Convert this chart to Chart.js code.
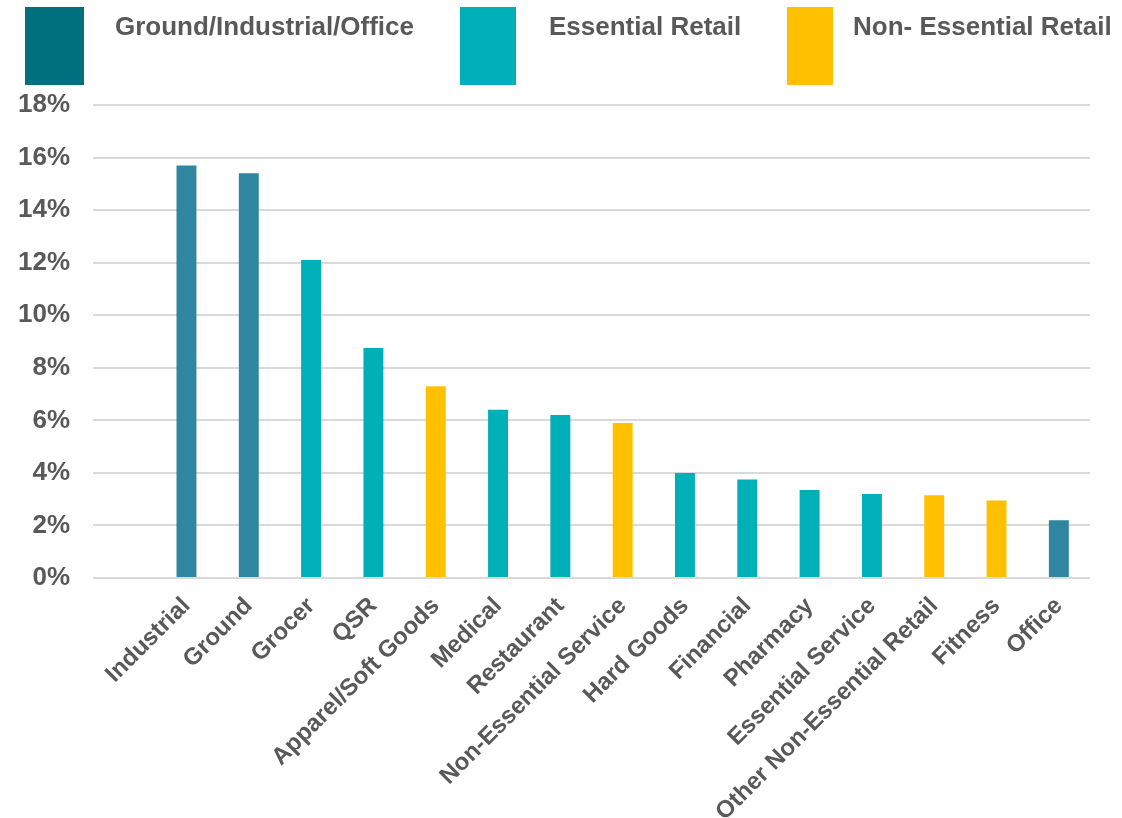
<!DOCTYPE html>
<html>
<head>
<meta charset="utf-8">
<script src="https://cdn.jsdelivr.net/npm/chart.js@4"></script>
<style>
  html, body { margin: 0; padding: 0; background: #ffffff; }
  #wrap { position: relative; width: 1122px; height: 818px; overflow: hidden; font-family: "Liberation Sans", Arial, sans-serif; }
  #chart { position: absolute; left: 0; top: 0; }
  .lg-box { position: absolute; top: 7px; height: 78px; }
  .lg-txt { position: absolute; top: 11px; font-weight: bold; font-size: 26px; color: #595959; white-space: nowrap; line-height: 30px; }
</style>
</head>
<body>
<div id="wrap">
  <canvas id="chart" width="1122" height="818"></canvas>
  <div class="lg-box" style="left:25px;width:59px;background:#00707F;"></div>
  <div class="lg-txt" style="left:115px;">Ground/Industrial/Office</div>
  <div class="lg-box" style="left:460px;width:56px;background:#00B0B9;"></div>
  <div class="lg-txt" style="left:549px;">Essential Retail</div>
  <div class="lg-box" style="left:787px;width:46px;background:#FFC000;"></div>
  <div class="lg-txt" style="left:853px;">Non- Essential Retail</div>
</div>
<script>
const categories = ["", "Industrial", "Ground", "Grocer", "QSR", "Apparel/Soft Goods", "Medical", "Restaurant",
  "Non-Essential Service", "Hard Goods", "Financial", "Pharmacy", "Essential Service",
  "Other Non-Essential Retail", "Fitness", "Office"];
const shares = [null, 15.7, 15.4, 12.1, 8.75, 7.3, 6.4, 6.2, 5.9, 4.0, 3.75, 3.35, 3.2, 3.15, 2.95, 2.2];
const groups = ["", "G", "G", "E", "E", "N", "E", "E", "N", "E", "E", "E", "E", "N", "N", "G"];
const groupColors = { G: "#2E86A0", E: "#00B0B9", N: "#FFC000", "": "#ffffff" };
const yTicks = [0, 2, 4, 6, 8, 10, 12, 14, 16, 18];

const textColor = "#595959";
const fontFamily = "'Liberation Sans', Arial, sans-serif";

new Chart(document.getElementById("chart"), {
  type: "bar",
  data: {
    labels: categories,
    datasets: [{
      data: shares,
      backgroundColor: groups.map(g => groupColors[g]),
      borderWidth: 0,
      categoryPercentage: 1,
      barPercentage: 0.32
    }]
  },
  options: {
    responsive: false,
    animation: false,
    layout: { padding: { top: 105, right: 32, left: 0, bottom: 0 } },
    plugins: { legend: { display: false }, tooltip: { enabled: false } },
    scales: {
      x: {
        grid: { display: false, drawTicks: false },
        border: { display: false },
        ticks: {
          autoSkip: false,
          maxRotation: 45,
          minRotation: 45,
          padding: 14,
          color: textColor,
          font: { family: fontFamily, size: 24, weight: "bold" }
        },
        afterFit: s => { s.height = 240; }
      },
      y: {
        min: 0,
        max: 18,
        afterBuildTicks: s => { s.ticks = yTicks.map(v => ({ value: v })); },
        grid: { color: "#D9D9D9", lineWidth: 2, drawTicks: false },
        border: { display: false },
        ticks: {
          padding: 23,
          color: textColor,
          font: { family: fontFamily, size: 26, weight: "bold" },
          callback: v => v + "%"
        },
        afterFit: s => { s.width = 93; }
      }
    }
  }
});
</script>
</body>
</html>
